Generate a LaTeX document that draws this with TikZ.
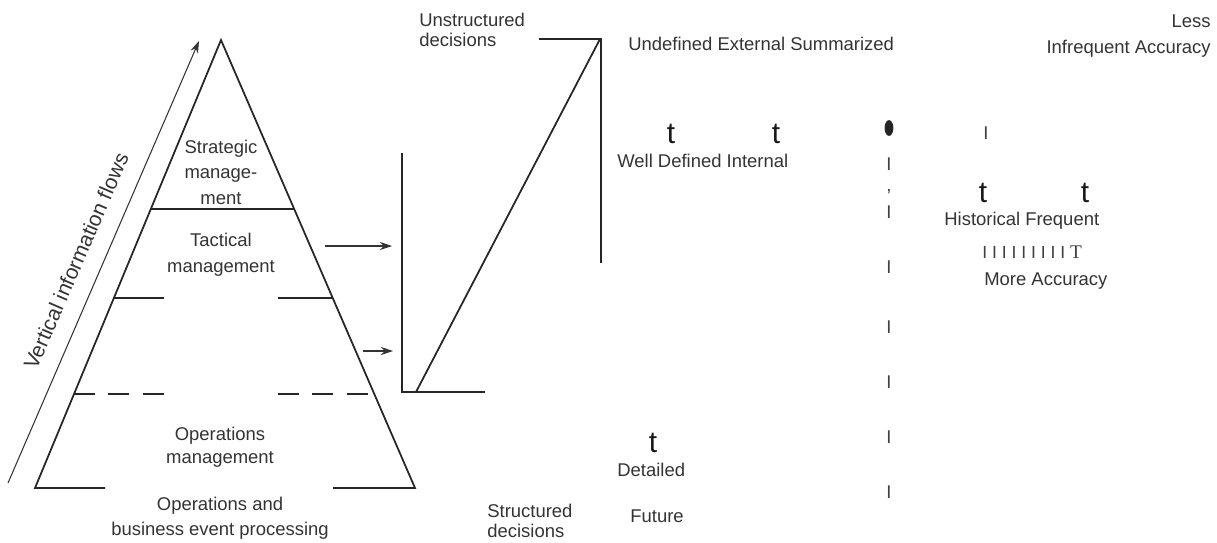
\documentclass[tikz,border=0pt]{standalone}
\usepackage{fontspec}
\setmainfont{Liberation Sans}
\newfontfamily\serifT{Liberation Serif}
\usetikzlibrary{arrows.meta, positioning, shapes.geometric, calc}

\begin{document}
\begin{tikzpicture}[
    x=0.02cm, y=-0.02cm,
    ink/.style={draw=black!85, line width=1pt},
    arr/.style={-{Stealth[length=2.4mm, width=1.6mm]}, draw=black!80, line width=0.6pt},
    lbl/.style={font=\fontsize{10.5}{14.5}\selectfont, text=black!80, inner sep=0pt, align=#1},
    lbl/.default=center,
    tee/.style={font=\fontsize{17}{20}\selectfont, text=black!90, inner sep=0pt, anchor=base},
    tick/.style={font=\fontsize{10.5}{12}\selectfont, text=black!75, inner sep=0pt, anchor=base},
]
\useasboundingbox (0,0) rectangle (1217,542);

% Pyramid
\coordinate (apex) at (221,40);
\coordinate (bl)   at (35,488);
\coordinate (br)   at (415,488);
\draw[ink] (105,488) -- (bl) -- (apex) -- (br) -- (333,488);
\draw[ink] (151,209) -- (294,209);
\draw[ink] (114,298) -- (164,298) (278,298) -- (332,298);
\draw[ink, dash pattern=on 12pt off 7.5pt] (74,394) -- (164,394) (278,394) -- (374,394);

% Level labels (base = last line)
\node[lbl, anchor=base] (strat) at (221,204) {Strategic\\manage-\\ment};
\node[lbl, anchor=base] (tact)  at (221,272) {Tactical\\management};
\node[lbl, anchor=base, font=\fontsize{10.5}{13}\selectfont] (oper) at (220,463) {Operations\\management};
\node[lbl, anchor=base, font=\fontsize{10.5}{14}\selectfont] (proc) at (220,535) {Operations and\\business event processing};

% Vertical flow
\coordinate (vf0) at (8,483);
\coordinate (vf1) at (199,41);
\draw[arr] (vf0) -- (vf1);
\node[lbl, font=\fontsize{12}{14}\selectfont, rotate=66.6] (vflow) at (76,261) {Vertical information flows};

% Decision figure
\draw[ink] (402,153) -- (402,392) -- (485,392);
\draw[ink] (416,392) -- (600,39);
\draw[ink] (539,39) -- (601,39) -- (601,263);

\coordinate (a1s) at (325,246);
\coordinate (a1e) at (392,246);
\coordinate (a2s) at (363,351);
\coordinate (a2e) at (393,351);
\draw[arr] (a1s) -- (a1e);
\draw[arr] (a2s) -- (a2e);

\node[lbl=left, anchor=base west, font=\fontsize{10.5}{11.3}\selectfont] (unstr) at (419,46) {Unstructured\\decisions};
\node[lbl=left, anchor=base west, font=\fontsize{10.5}{11.3}\selectfont] (str)   at (487,537) {Structured\\decisions};

% Attributes
\node[lbl, anchor=base west] (undef) at (628,50)  {Undefined External Summarized};
\node[tee] (t1) at (671,143) {t};
\node[tee] (t2) at (776,143) {t};
\node[lbl, anchor=base west] (well)  at (617,167) {Well Defined Internal};
\node[tee] (t3) at (653,452) {t};
\node[lbl, anchor=base west] (det)   at (617,476) {Detailed};
\node[lbl, anchor=base west] (fut)   at (630,522) {Future};

\node[lbl, anchor=base east] (less)  at (1211,27) {Less};
\node[lbl, anchor=base east] (infr)  at (1211,53) {Infrequent Accuracy};

\node[ellipse, fill=black!85, inner sep=0pt, minimum width=5pt, minimum height=9pt] (dot) at (889,128) {};
\foreach \yy in {170,218,273,333,388,443,498}
    \node[tick] at (889,\yy) {I};
\node[tick] (comma) at (889,191) {,};
\node[tick] (tk) at (986,139) {I};

\node[tee] (t4) at (983,202)  {t};
\node[tee] (t5) at (1085,202) {t};
\node[lbl, anchor=base west] (hist) at (944,225) {Historical Frequent};
\node[tick, anchor=base west, font=\fontsize{10}{12}\selectfont] (bars) at (982,258) {I I I I I I I I I {\serifT\fontsize{11}{12}\selectfont T}};
\node[lbl, anchor=base west] (more) at (984,285) {More Accuracy};
\end{tikzpicture}
\end{document}
